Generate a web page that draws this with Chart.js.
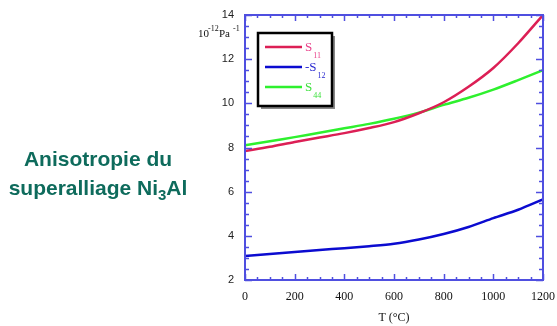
<!DOCTYPE html>
<html>
<head>
<meta charset="utf-8">
<script src="https://cdn.jsdelivr.net/npm/chart.js@4.4.0/dist/chart.umd.min.js"></script>
<style>
html, body { margin: 0; padding: 0; background: #fff; }
#wrap { position: relative; width: 557px; height: 326px; }
#chart { position: absolute; left: 0; top: 0; }
#title {
    position: absolute; left: 0; top: 144px; width: 196px;
    text-align: center; color: #0e6b5c;
    font: bold 21px "Liberation Sans", Arial, sans-serif; line-height: 29px;
}
#title sub { font-size: 15px; vertical-align: -5px; line-height: 0; }
</style>
</head>
<body>
<div id="wrap">
    <canvas id="chart" width="557" height="326"></canvas>
    <div id="title">Anisotropie du<br>superalliage Ni<sub>3</sub>Al</div>
</div>
<script>
// temperature (°C)
const temps = [0, 100, 200, 300, 400, 500, 600, 700, 800, 900, 1000, 1100, 1200];
// compliances, 10^-12 Pa^-1
const s11 = [7.84, 8.03, 8.25, 8.45, 8.65, 8.88, 9.15, 9.55, 10.05, 10.75, 11.6, 12.72, 14.0];
const minusS12 = [3.09, 3.18, 3.27, 3.36, 3.44, 3.53, 3.64, 3.83, 4.08, 4.4, 4.8, 5.18, 5.65];
const s44 = [8.1, 8.28, 8.47, 8.67, 8.87, 9.07, 9.3, 9.58, 9.93, 10.25, 10.62, 11.05, 11.5];

const xTicks = [0, 200, 400, 600, 800, 1000, 1200];
const yTicks = [2, 4, 6, 8, 10, 12, 14];

const legendItems = [
    { name: 'S', sub: '11', color: '#e8408a' },
    { name: '-S', sub: '12', color: '#2a2ad0' },
    { name: 'S', sub: '44', color: '#3ee03e' }
];

const frameBlue = '#4f4fe0';

function pts(vals) {
    return temps.map((t, i) => ({ x: t, y: vals[i] }));
}

const framePlugin = {
    id: 'frame',
    afterDatasetsDraw(chart) {
        const ctx = chart.ctx;
        const a = chart.chartArea;
        const xs = chart.scales.x;
        const ys = chart.scales.y;
        ctx.save();
        ctx.strokeStyle = frameBlue;
        ctx.lineWidth = 1.5;
        ctx.beginPath();
        for (let v = 0; v <= 1200; v += 50) {
            const px = Math.round(xs.getPixelForValue(v)) + 0.5;
            const len = v % 200 === 0 ? 6 : 3;
            ctx.moveTo(px, a.bottom); ctx.lineTo(px, a.bottom - len);
            ctx.moveTo(px, a.top); ctx.lineTo(px, a.top + len);
        }
        for (let v = 2; v <= 14; v += 0.5) {
            const py = Math.round(ys.getPixelForValue(v)) + 0.5;
            const len = v % 2 === 0 ? 7 : 4;
            ctx.moveTo(a.left, py); ctx.lineTo(a.left + len, py);
            ctx.moveTo(a.right, py); ctx.lineTo(a.right - len, py);
        }
        ctx.stroke();
        ctx.lineWidth = 2;
        ctx.strokeRect(a.left, a.top, a.right - a.left, a.bottom - a.top);

        // unit label
        ctx.fillStyle = '#111';
        ctx.textBaseline = 'alphabetic';
        ctx.font = '11px "Liberation Serif", "Times New Roman", serif';
        ctx.fillText('10', 198, 37);
        ctx.fillText('Pa', 219, 37);
        ctx.font = '8px "Liberation Serif", "Times New Roman", serif';
        ctx.fillText('-12', 208, 31);
        ctx.fillText('-1', 233, 31);

        // legend box
        const bx = 258, by = 33, bw = 74, bh = 73;
        ctx.fillStyle = '#888';
        ctx.fillRect(bx + 3, by + 3, bw, bh);
        ctx.fillStyle = '#fff';
        ctx.fillRect(bx, by, bw, bh);
        ctx.strokeStyle = '#000';
        ctx.lineWidth = 2.5;
        ctx.strokeRect(bx, by, bw, bh);
        chart.data.datasets.forEach((ds, i) => {
            const item = legendItems[i];
            const ly = by + 14 + i * 20;
            ctx.strokeStyle = ds.borderColor;
            ctx.lineWidth = 2.5;
            ctx.beginPath();
            ctx.moveTo(265, ly); ctx.lineTo(302, ly);
            ctx.stroke();
            ctx.fillStyle = item.color;
            ctx.font = '13px "Liberation Serif", "Times New Roman", serif';
            ctx.fillText(item.name, 305, ly + 4);
            const w = ctx.measureText(item.name).width;
            ctx.font = '8px "Liberation Serif", "Times New Roman", serif';
            ctx.fillText(item.sub, 305 + w + 1, ly + 11);
        });
        ctx.restore();
    }
};

new Chart(document.getElementById('chart'), {
    type: 'line',
    data: {
        datasets: [
            { label: 'S11', data: pts(s11), borderColor: '#dc1f55', borderWidth: 2.5 },
            { label: '-S12', data: pts(minusS12), borderColor: '#0b0bd0', borderWidth: 2.5 },
            { label: 'S44', data: pts(s44), borderColor: '#2ef02e', borderWidth: 2.5 }
        ]
    },
    options: {
        responsive: false,
        animation: false,
        layout: { padding: { left: 0, right: 14, top: 15, bottom: 0 } },
        elements: {
            point: { radius: 0 },
            line: { tension: 0.3, fill: false }
        },
        plugins: {
            legend: { display: false },
            tooltip: { enabled: false }
        },
        scales: {
            x: {
                type: 'linear',
                min: 0,
                max: 1200,
                afterFit(s) { s.height = 46; s.paddingLeft = 0; s.paddingRight = 0; },
                afterBuildTicks(s) { s.ticks = xTicks.map(v => ({ value: v })); },
                grid: { display: false, drawTicks: false },
                border: { display: false },
                ticks: {
                    padding: 10,
                    color: '#111',
                    maxRotation: 0,
                    callback: v => String(v),
                    font: { family: '"Liberation Serif", "Times New Roman", serif', size: 12 }
                },
                title: {
                    display: true,
                    text: 'T (°C)',
                    color: '#111',
                    padding: { top: 0, bottom: 1 },
                    font: { family: '"Liberation Serif", "Times New Roman", serif', size: 12 }
                }
            },
            y: {
                min: 2,
                max: 14,
                afterFit(s) { s.width = 245; s.paddingTop = 0; s.paddingBottom = 0; },
                afterBuildTicks(s) { s.ticks = yTicks.map(v => ({ value: v })); },
                grid: { display: false, drawTicks: false },
                border: { display: false },
                ticks: {
                    padding: 11,
                    color: '#222',
                    font: { family: '"Liberation Sans", Arial, sans-serif', size: 11 }
                }
            }
        }
    },
    plugins: [framePlugin]
});
</script>
</body>
</html>
